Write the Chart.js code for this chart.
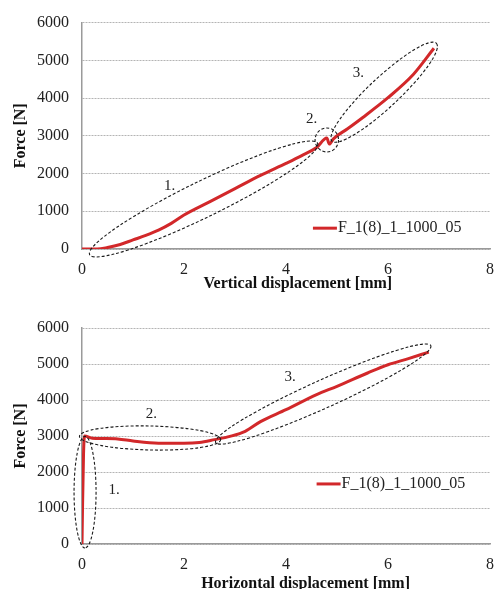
<!DOCTYPE html>
<html lang="en">
<head>
  <meta charset="UTF-8" />
  <title>Force vs displacement</title>
  <script src="https://cdn.jsdelivr.net/npm/chart.js"></script>
  <style>
    html, body { margin: 0; padding: 0; background: #fff; overflow: hidden; }
    #wrap { position: relative; width: 494px; height: 589px; overflow: hidden; }
    #wrap canvas { position: absolute; left: 0; }
    #topChart { top: 0; }
    #bottomChart { top: 295px; }
  </style>
</head>
<body>
  <div id="wrap">
    <canvas id="topChart" width="520" height="295"></canvas>
    <canvas id="bottomChart" width="520" height="300"></canvas>
  </div>

  <script>
    // series
    const seriesLabel = 'F_1(8)_1_1000_05';

    const vertDisp  = [0, 0.3, 0.5, 0.75, 1.0, 1.25, 1.5, 1.75, 2.0, 2.5, 3.0, 3.5, 4.0, 4.3, 4.6, 4.8, 4.85, 4.93, 5.2, 5.5, 6.0, 6.5, 6.9];
    const vertForce = [0, 0, 40, 120, 240, 360, 500, 680, 900, 1250, 1600, 1950, 2270, 2470, 2690, 2940, 2780, 2920, 3180, 3480, 4010, 4630, 5320];

    const horizDisp  = [0, 0.01, 0.03, 0.05, 0.2, 0.4, 0.7, 1.0, 1.5, 2.0, 2.3, 2.6, 2.9, 3.2, 3.5, 4.0, 4.6, 5.0, 5.6, 6.0, 6.4, 6.8];
    const horizForce = [0, 1000, 2500, 3000, 2940, 2930, 2920, 2860, 2800, 2800, 2820, 2900, 2990, 3130, 3400, 3730, 4150, 4380, 4750, 4980, 5150, 5330];

    const xTicks = [0, 2, 4, 6, 8];
    const yTicks = [0, 1000, 2000, 3000, 4000, 5000, 6000];

    // annotations: [x1, y1, x2, y2] ends of each dashed ellipse, in data units
    const topEllipses    = [[0.15, -150, 4.62, 2800], [4.57, 2890, 5.03, 2890], [4.9, 2860, 6.95, 5450]];
    const bottomEllipses = [[0.06, 2990, 0.06, -110], [-0.05, 2990, 2.72, 2900], [2.62, 2820, 6.84, 5510]];
    const topMarks    = [['1.', 1.72, 1680], ['2.', 4.5, 3440], ['3.', 5.42, 4670]];
    const bottomMarks = [['1.', 0.63, 1510], ['2.', 1.36, 3620], ['3.', 4.08, 4640]];

    const RED = '#d2282a';
    const SERIF = "'Liberation Serif', 'Times New Roman', serif";

    const annotationPlugin = {
      id: 'zones',
      afterDatasetsDraw(chart, args, opts) {
        const ctx = chart.ctx;
        const xs = chart.scales.x, ys = chart.scales.y;
        const a = chart.chartArea;
        ctx.save();
        ctx.strokeStyle = '#1a1a1a';
        ctx.lineWidth = 1.1;
        ctx.setLineDash([3, 2]);
        opts.ellipses.forEach((e, i) => {
          const x1 = xs.getPixelForValue(e[0]), y1 = ys.getPixelForValue(e[1]);
          const x2 = xs.getPixelForValue(e[2]), y2 = ys.getPixelForValue(e[3]);
          const rx = Math.hypot(x2 - x1, y2 - y1) / 2;
          const rot = Math.atan2(y2 - y1, x2 - x1);
          ctx.beginPath();
          ctx.ellipse((x1 + x2) / 2, (y1 + y2) / 2, rx, opts.widths[i], rot, 0, Math.PI * 2);
          ctx.stroke();
        });
        ctx.setLineDash([]);
        ctx.fillStyle = '#222';
        ctx.font = '15px ' + SERIF;
        ctx.textAlign = 'center';
        ctx.textBaseline = 'middle';
        opts.marks.forEach(m => {
          ctx.fillText(m[0], xs.getPixelForValue(m[1]), ys.getPixelForValue(m[2]));
        });

        // x axis title (sits a bit right of the plot centre in the original)
        ctx.fillStyle = '#111';
        ctx.font = 'bold 16px ' + SERIF;
        ctx.fillText(opts.xTitle, a.left + (a.right - a.left) * opts.xTitleAt, a.bottom + opts.xTitleDrop);

        // legend inside the plot
        const lx = a.left + (a.right - a.left) * opts.legendAt[0];
        const ly = a.top + (a.bottom - a.top) * opts.legendAt[1];
        ctx.strokeStyle = RED;
        ctx.lineWidth = 3;
        ctx.beginPath();
        ctx.moveTo(lx, ly);
        ctx.lineTo(lx + 24, ly);
        ctx.stroke();
        ctx.fillStyle = '#222';
        ctx.font = '16px ' + SERIF;
        ctx.textAlign = 'left';
        ctx.fillText(chart.data.datasets[0].label, lx + 25, ly);
        ctx.restore();
      }
    };

    function makeChart(id, xs, ys, xTitle, xTitleAt, xTitleDrop, ellipses, widths, marks, legendAt, padTop, xHeight) {
      return new Chart(document.getElementById(id), {
        type: 'scatter',
        data: {
          datasets: [{
            label: seriesLabel,
            data: xs.map((x, i) => ({ x, y: ys[i] })),
            showLine: true,
            borderColor: RED,
            borderWidth: 3,
            pointRadius: 0,
            cubicInterpolationMode: 'monotone'
          }]
        },
        options: {
          responsive: false,
          animation: false,
          layout: { padding: { top: padTop, right: 30, left: 0, bottom: 0 } },
          plugins: {
            legend: { display: false },
            tooltip: { enabled: false },
            zones: { ellipses, widths, marks, legendAt, xTitle, xTitleAt, xTitleDrop }
          },
          scales: {
            x: {
              type: 'linear',
              min: 0, max: 8,
              afterBuildTicks: s => { s.ticks = xTicks.map(v => ({ value: v })); },
              afterFit: s => { s.height = xHeight; },
              grid: { display: false },
              border: { display: true, color: '#9a9a9a', width: 1.5 },
              ticks: { padding: 3, color: '#222', font: { family: SERIF, size: 16 },
                       callback: v => String(v) }
            },
            y: {
              min: 0, max: 6000,
              afterBuildTicks: s => { s.ticks = yTicks.map(v => ({ value: v })); },
              afterFit: s => { s.width = 82; },
              grid: { color: '#b4b4b4', lineWidth: 1, drawTicks: false },
              border: { display: true, color: '#9a9a9a', width: 1.5, dash: [2, 1] },
              ticks: { padding: 13, color: '#222', font: { family: SERIF, size: 16 },
                       callback: v => String(v) },
              title: {
                display: true, text: 'Force [N]', color: '#111',
                padding: { top: 11, bottom: 0 },
                font: { family: SERIF, size: 16, weight: 'bold' }
              }
            }
          }
        },
        plugins: [annotationPlugin]
      });
    }

    makeChart('topChart', vertDisp, vertForce, 'Vertical displacement [mm]', 0.529, 35,
      topEllipses, [18, 12, 15], topMarks, [0.566, 0.908], 21, 46);
    makeChart('bottomChart', horizDisp, horizForce, 'Horizontal displacement [mm]', 0.548, 40,
      bottomEllipses, [11, 12, 14], bottomMarks, [0.575, 0.722], 33, 51);
  </script>
</body>
</html>
